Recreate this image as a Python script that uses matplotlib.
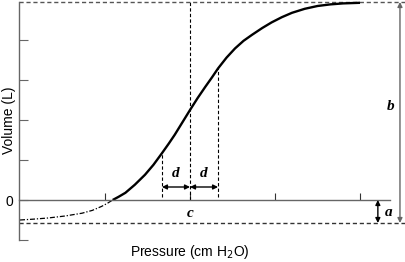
import numpy as np
import matplotlib
matplotlib.use('Agg')
import matplotlib.pyplot as plt

# curva presión-volumen (cm H2O, L)
pres_low = [0.0, 1.5, 3.3, 5.3, 7.3, 8.5, 9.6, 10.3, 10.9]
vol_low = [-0.50, -0.48, -0.45, -0.40, -0.33, -0.26, -0.16, -0.08, 0.0]
pres_up = [10.9, 11.6, 12.4, 13.5, 14.7, 15.7, 16.7, 17.5, 18.2, 19.1, 20.0,
           20.9, 21.8, 22.6, 23.3, 24.3, 25.3, 26.3, 27.3, 28.5, 29.6, 30.8,
           32.0, 33.5, 35.0, 36.5, 38.0, 40.0]
vol_up = [0.0, 0.08, 0.18, 0.38, 0.63, 0.88, 1.17, 1.41, 1.63, 1.94, 2.25,
          2.55, 2.83, 3.07, 3.29, 3.56, 3.79, 3.98, 4.13, 4.30, 4.44, 4.57,
          4.68, 4.78, 4.85, 4.89, 4.915, 4.93]

# parámetros del modelo
a_low = -0.575   # asíntota inferior
v_top = 4.95     # asíntota superior
c_p = 20.0
d_p = 3.3

x_ticks = [10, 20, 30, 40]
y_ticks = [-1, 0, 1, 2, 3, 4]
y_labels = ['', '0', '', '', '', '']

plt.rcParams['font.family'] = ['Liberation Sans', 'DejaVu Sans']

fig = plt.figure(figsize=(4.06, 2.62), dpi=100)
ax = fig.add_axes([0, 0, 1, 1])
ax.set_xlim(-2.353, 45.41)
ax.set_ylim(-1.55, 5.0)
ax.patch.set_alpha(0)

gris = '#666666'

# ejes
ax.spines['top'].set_visible(False)
ax.spines['right'].set_visible(False)
ax.spines['left'].set_position(('data', -0.12))
ax.spines['left'].set_bounds(-1, v_top)
ax.spines['bottom'].set_position(('data', 0))
ax.spines['bottom'].set_bounds(-0.12, 43.5)
for s in ['left', 'bottom']:
    ax.spines[s].set_color(gris)
    ax.spines[s].set_linewidth(1.0)

ax.set_xticks(x_ticks)
ax.set_xticklabels([])
ax.set_yticks(y_ticks)
ax.set_yticklabels(y_labels)
ax.tick_params(axis='x', direction='in', length=5, width=0.8, color='#333333')
ax.tick_params(axis='y', direction='in', length=6.5, width=0.8, color=gris,
               labelsize=10, pad=4)

ax.text(0.468, 0.038, 'Pressure (cm H$_2$O)', fontsize=10, ha='center',
        va='center', transform=ax.transAxes)
ax.text(0.022, 0.542, 'Volume (L)', fontsize=10, ha='center', va='center',
        rotation=90, transform=ax.transAxes)

# asíntotas
ax.plot([-0.12, 45.3], [v_top, v_top], ls=(0, (3, 2)), color='#555555', lw=1.0)
ax.plot([-0.12, 45.3], [a_low, a_low], ls=(0, (3, 2)), color='#333333', lw=1.0)

# curva
ax.plot(pres_low, vol_low, ls=(0, (4, 1.5, 1, 1.5)), color='black', lw=0.9)
ax.plot(pres_up, vol_up, color='black', lw=1.7, solid_capstyle='butt',
        solid_joinstyle='round')

# líneas verticales c, c-d, c+d
ax.plot([c_p, c_p], [0, v_top], ls=(0, (3, 2)), color='black', lw=0.8)
for p in [c_p - d_p, c_p + d_p]:
    v = np.interp(p, pres_up, vol_up)
    ax.plot([p, p], [0.07, v], ls=(0, (3, 2)), color='black', lw=0.8)

flecha = dict(arrowstyle='<|-|>', color='black', lw=1.0, mutation_scale=7,
              shrinkA=0, shrinkB=0)
ax.annotate('', xy=(c_p - d_p, 0.325), xytext=(c_p, 0.325), arrowprops=flecha)
ax.annotate('', xy=(c_p, 0.325), xytext=(c_p + d_p, 0.325), arrowprops=flecha)
ax.annotate('', xy=(42.1, 0), xytext=(42.1, a_low), arrowprops=flecha)
flecha_b = dict(flecha, color=gris)
ax.annotate('', xy=(44.7, v_top), xytext=(44.7, a_low), arrowprops=flecha_b)

etq = dict(family=['Liberation Serif', 'DejaVu Serif'], style='italic',
           fontsize=11, fontweight='bold', ha='center', va='center')
ax.text(c_p - d_p / 2, 0.67, 'd', **etq)
ax.text(c_p + d_p / 2, 0.67, 'd', **etq)
ax.text(c_p, -0.33, 'c', **etq)
ax.text(43.4, -0.3, 'a', **etq)
ax.text(43.6, 2.33, 'b', **etq)

fig.savefig('out.png', dpi=100)
